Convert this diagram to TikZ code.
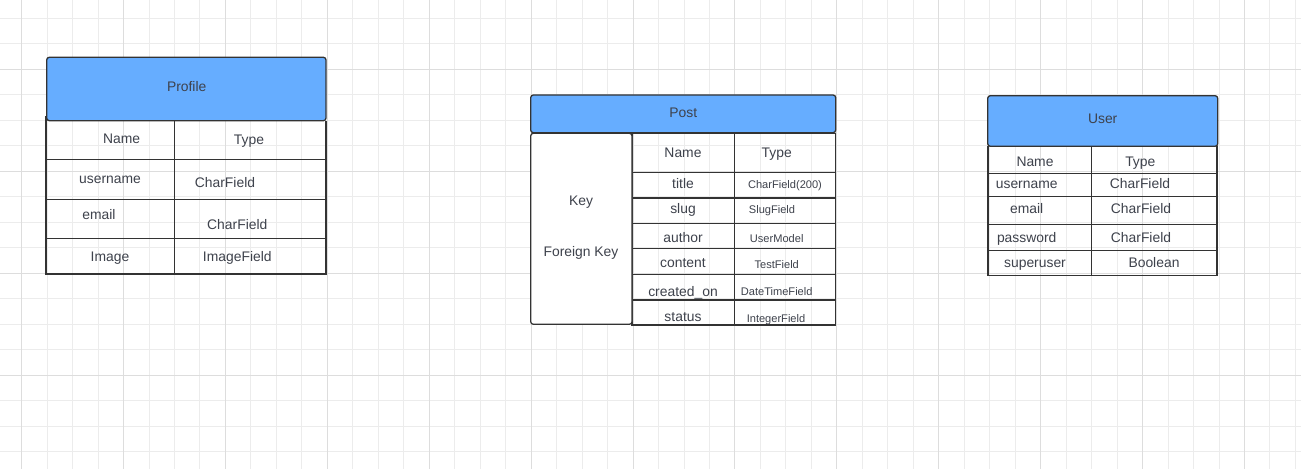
\documentclass[tikz,border=0pt]{standalone}
\usepackage{fontspec}
\setmainfont{Liberation Sans}
\usepackage{xcolor}
\definecolor{headblue}{RGB}{102,173,255}
\definecolor{edgegray}{RGB}{51,51,51}
\definecolor{textgray}{RGB}{62,66,76}
\definecolor{minorgrid}{RGB}{236,236,236}
\definecolor{majorgrid}{RGB}{221,221,221}
\tikzset{
  minorline/.style={draw=minorgrid, line width=0.5pt},
  majorline/.style={draw=majorgrid, line width=0.5pt},
  head/.style={draw=edgegray, fill=headblue, line width=0.75pt, rounded corners=1.5pt},
  rule/.style={draw=edgegray, line width=0.7pt},
  cell/.style={text=textgray, inner sep=0pt, anchor=mid, font=\fontsize{7.9pt}{9pt}\selectfont},
  smallcell/.style={text=textgray, inner sep=0pt, anchor=mid, font=\fontsize{6.3pt}{7.5pt}\selectfont}
}

\begin{document}
\begin{tikzpicture}[x=0.02cm, y=-0.02cm] % model tables
\useasboundingbox (0,0) rectangle (1301,469);
\fill[white] (0,0) rectangle (1301,469);
% grid paper
\foreach \m in {0,...,12} \foreach \j in {1,2,3}
  \draw[minorline] ({21.6+101.9*\m+25.475*\j},0) -- ({21.6+101.9*\m+25.475*\j},469);
\foreach \m in {-1,...,3} \foreach \j in {1,2,3}
  \draw[minorline] (0,{69.3+101.9*\m+25.475*\j}) -- (1301,{69.3+101.9*\m+25.475*\j});
\foreach \m in {0,...,12} \draw[majorline] ({21.6+101.9*\m},0) -- ({21.6+101.9*\m},469);
\foreach \m in {0,...,3} \draw[majorline] (0,{69.3+101.9*\m}) -- (1301,{69.3+101.9*\m});

% Profile
\draw[rule] (46,116) -- (46,274) -- (326,274) -- (326,120.7);
\draw[rule] (174.3,120.7) -- (174.3,274);
\foreach \y in {159.3,199.3,238.7} \draw[rule] (46,\y) -- (326,\y);
\draw[head] (46.7,57.3) rectangle (326,120.7);
\node[cell] (profile) at (186.7,86.7) {Profile};
\node[cell] (pname) at (121.7,139) {Name};
\node[cell] (ptype) at (249,140) {Type};
\node[cell] (puser) at (110,179.3) {username};
\node[cell] (puserty) at (225,182.7) {CharField};
\node[cell] (pmail) at (99,215) {email};
\node[cell] (pmailty) at (237.3,225) {CharField};
\node[cell] (pimg) at (110,257.3) {Image};
\node[cell] (pimgty) at (237.3,257.3) {ImageField};

% Post
\draw[rule] (632,133.3) rectangle (835.3,325);
\draw[rule] (734.3,133.3) -- (734.3,325);
\foreach \y in {172.3,198,223.3,248.7,274.3,300} \draw[rule] (632,\y) -- (835.3,\y);
\draw[rule, fill=white, rounded corners=1.5pt] (530.7,133.3) rectangle (632,324.3);
\draw[head] (530.7,95) rectangle (835.7,132.7);
\node[cell] (post) at (683.3,112.7) {Post};
\node[cell] (key) at (581,201) {Key};
\node[cell] (fkey) at (581,251.7) {Foreign Key};
\node[cell] (qname) at (683,153.3) {Name};
\node[cell] (qtype) at (776.7,153.3) {Type};
\node[cell] (title) at (683,184.3) {title};
\node[cell] (slug) at (683,209.3) {slug};
\node[cell] (author) at (683,238.3) {author};
\node[cell] (content) at (683,263.3) {content};
\node[cell] (created) at (683,291.7) {created\_on};
\node[cell] (status) at (683,317.3) {status};
\node[smallcell] (titlety) at (785,184.3) {CharField(200)};
\node[smallcell] (slugty) at (772,209) {SlugField};
\node[smallcell] (authorty) at (776.7,238.3) {UserModel};
\node[smallcell] (contentty) at (776.7,264) {TestField};
\node[smallcell] (createdty) at (776.7,291) {DateTimeField};
\node[smallcell] (statusty) at (776,317.7) {IntegerField};

% User
\draw[rule] (988,146.3) -- (988,275.3) -- (1218,275.3);
\draw[rule] (1217,146.3) -- (1217,275.3);
\draw[rule] (1091.3,146.3) -- (1091.3,275.3);
\foreach \y in {173.3,196.7,224.3,250.3} \draw[rule] (988,\y) -- (1217,\y);
\draw[head] (987.7,95.7) rectangle (1217.7,146.3);
\node[cell] (user) at (1102.7,119.3) {User};
\node[cell] (uname) at (1035,161.7) {Name};
\node[cell] (utype) at (1140.3,161.7) {Type};
\node[cell] (uuser) at (1026.7,184.3) {username};
\node[cell] (uuserty) at (1140,184.3) {CharField};
\node[cell] (umail) at (1026.7,209.3) {email};
\node[cell] (umailty) at (1141,209.3) {CharField};
\node[cell] (upass) at (1026.7,237.7) {password};
\node[cell] (upassty) at (1141,237.7) {CharField};
\node[cell] (usuper) at (1035,263.3) {superuser};
\node[cell] (usuperty) at (1154,263.3) {Boolean};
\end{tikzpicture}
\end{document}
